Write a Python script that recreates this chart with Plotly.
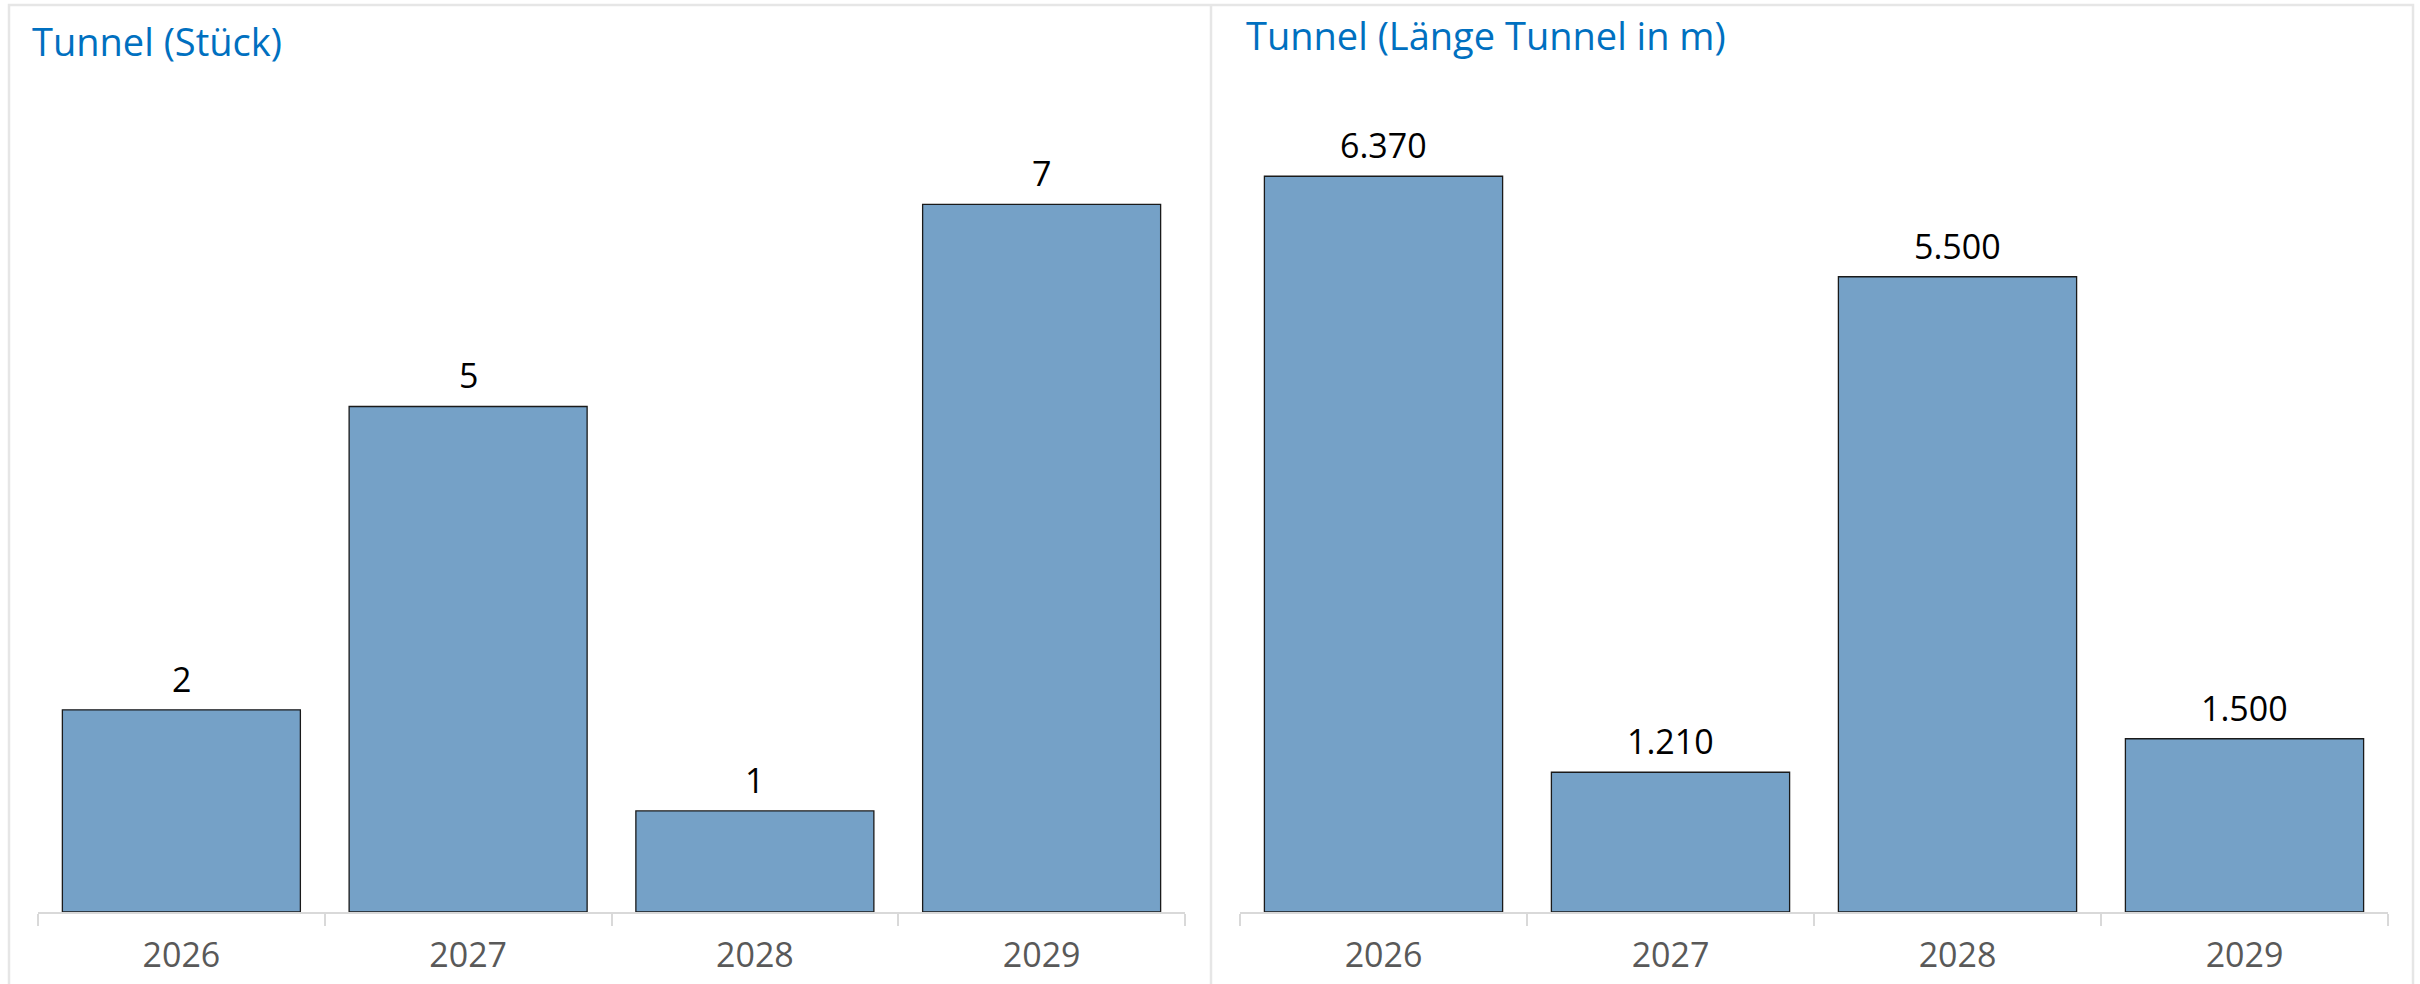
import plotly.graph_objects as go

years = ["2026", "2027", "2028", "2029"]
tunnel_count = [2, 5, 1, 7]
tunnel_length_m = [6370, 1210, 5500, 1500]
title_left = "Tunnel (Stück)"
title_right = "Tunnel (Länge Tunnel in m)"

W, H = 2420, 984
BAR_COLOR = "#75a1c7"
AXIS_COLOR = "#d9d9d9"
FONT = "Open Sans"

def px_x(v):
    return v / W

def px_y(v):
    return 1 - v / H

def de_num(v):
    return f"{v:,}".replace(",", ".")

fig = go.Figure()
fig.add_trace(go.Bar(
    x=years, y=tunnel_count, xaxis="x", yaxis="y",
    marker=dict(color=BAR_COLOR, line=dict(color="#1a1a1a", width=1.3)),
    hoverinfo="skip", showlegend=False,
))
fig.add_trace(go.Bar(
    x=years, y=tunnel_length_m, xaxis="x2", yaxis="y2",
    marker=dict(color=BAR_COLOR, line=dict(color="#1a1a1a", width=1.3)),
    hoverinfo="skip", showlegend=False,
))

xcommon = dict(
    type="category", showline=True, linecolor=AXIS_COLOR, linewidth=2,
    ticks="outside", ticklen=12, tickwidth=2, tickcolor=AXIS_COLOR,
    tickson="boundaries", showgrid=False, zeroline=False,
    ticklabelstandoff=12,
    tickfont=dict(size=34, color="#595959", family=FONT),
)
ycommon = dict(visible=False, showgrid=False, zeroline=False)

annotations = [
    dict(text=title_left, x=px_x(30), y=px_y(41), xref="paper", yref="paper",
         xanchor="left", yanchor="middle", showarrow=False,
         font=dict(size=38, color="#0070c0", family=FONT)),
    dict(text=title_right, x=px_x(1244), y=px_y(35), xref="paper", yref="paper",
         xanchor="left", yanchor="middle", showarrow=False,
         font=dict(size=38, color="#0070c0", family=FONT)),
]
label_font = dict(size=34, color="#000000", family=FONT)
for i, v in enumerate(tunnel_count):
    annotations.append(dict(text=de_num(v), x=i, y=v, xref="x", yref="y",
                            xanchor="center", yanchor="bottom", yshift=6,
                            showarrow=False, font=label_font))
for i, v in enumerate(tunnel_length_m):
    annotations.append(dict(text=de_num(v), x=i, y=v, xref="x2", yref="y2",
                            xanchor="center", yanchor="bottom", yshift=6,
                            showarrow=False, font=label_font))

ydom = [px_y(912), px_y(100)]
fig.update_layout(
    width=W, height=H,
    margin=dict(l=0, r=0, t=0, b=0),
    paper_bgcolor="white", plot_bgcolor="white",
    bargap=0.17,
    font=dict(family=FONT),
    xaxis=dict(domain=[px_x(38), px_x(1185)], anchor="y",
               categoryorder="array", categoryarray=years, **xcommon),
    yaxis=dict(domain=ydom, anchor="x", range=[0, 812 / 101.1], **ycommon),
    xaxis2=dict(domain=[px_x(1240), px_x(2388)], anchor="y2",
                categoryorder="array", categoryarray=years, **xcommon),
    yaxis2=dict(domain=ydom, anchor="x2", range=[0, 812 / 0.1155], **ycommon),
    annotations=annotations,
    shapes=[
        dict(type="rect", xref="paper", yref="paper",
             x0=px_x(9), x1=px_x(2413), y0=-0.1, y1=px_y(5),
             line=dict(color="#e6e6e6", width=2.5), fillcolor="rgba(0,0,0,0)"),
        dict(type="line", xref="paper", yref="paper",
             x0=px_x(1211), x1=px_x(1211), y0=-0.1, y1=px_y(5),
             line=dict(color="#e6e6e6", width=2.5)),
    ],
)

fig.write_html("out.html", config={"displayModeBar": False},
               post_script="document.body.style.margin='0px';document.body.style.overflow='hidden';")
